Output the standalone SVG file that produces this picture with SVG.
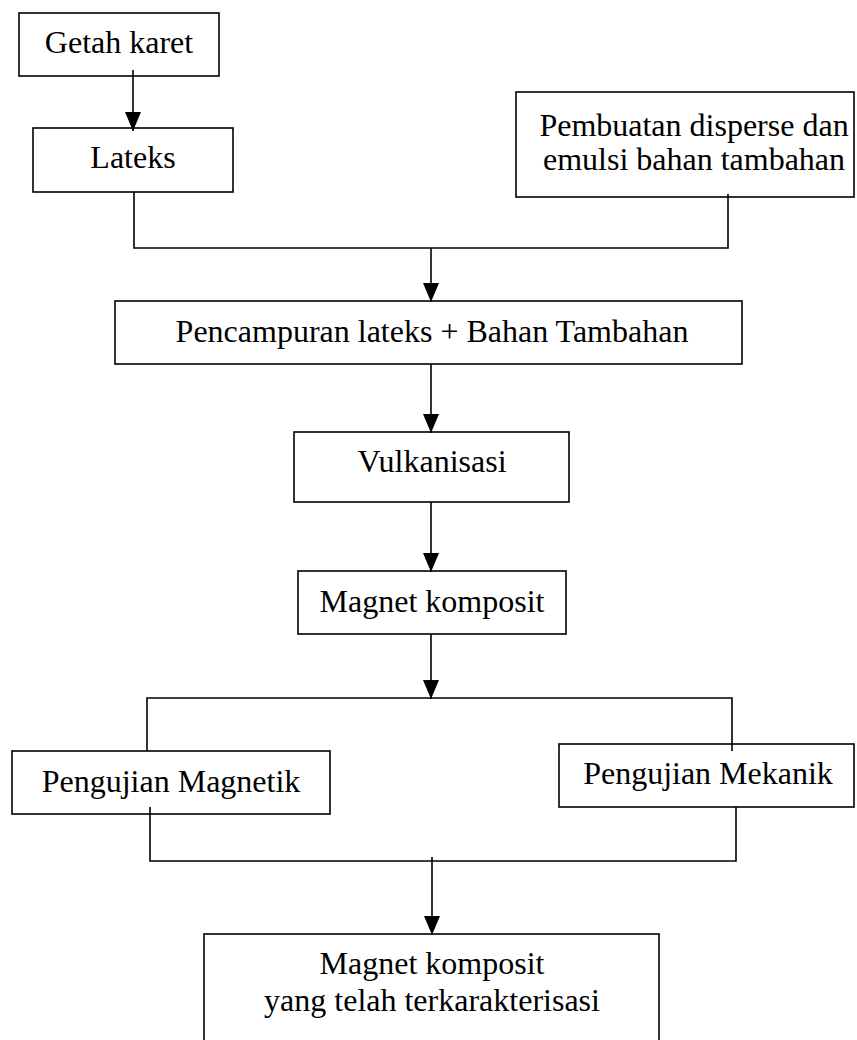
<svg xmlns="http://www.w3.org/2000/svg" width="857" height="1040" viewBox="0 0 857 1040">
  <style>
    .box { fill: #ffffff; stroke: #000000; stroke-width: 1.6; }
    .lbl { font-family: "Liberation Serif", "Times New Roman", serif; font-size: 32px; fill: #000000; text-anchor: middle; }
    .ln { fill: none; stroke: #000000; stroke-width: 1.6; }
    .arr { fill: none; stroke: #000000; stroke-width: 1.6; marker-end: url(#ah); }
  </style>
  <defs>
    <marker id="ah" markerUnits="userSpaceOnUse" markerWidth="20" markerHeight="16" viewBox="0 0 19 16" refX="19" refY="8" orient="auto">
      <path d="M0,0 L19,8 L0,16 Z" fill="#000000"/>
    </marker>
  </defs>
  <rect width="857" height="1040" fill="#ffffff"/>

  <g id="n-getah">
    <rect class="box" x="19" y="13" width="200" height="63"/>
    <text class="lbl" x="119" y="53">Getah karet</text>
  </g>
  <g id="n-lateks">
    <rect class="box" x="33" y="128" width="200" height="64"/>
    <text class="lbl" x="133" y="168">Lateks</text>
  </g>
  <g id="n-pembuatan">
    <rect class="box" x="516" y="92" width="338" height="105"/>
    <text class="lbl" x="694" y="136">Pembuatan disperse dan</text>
    <text class="lbl" x="694" y="170">emulsi bahan tambahan</text>
  </g>
  <g id="n-pencampuran">
    <rect class="box" x="115" y="301" width="627" height="63"/>
    <text class="lbl" x="432" y="342">Pencampuran lateks + Bahan Tambahan</text>
  </g>
  <g id="n-vulkanisasi">
    <rect class="box" x="294" y="432" width="275" height="70"/>
    <text class="lbl" x="432" y="472">Vulkanisasi</text>
  </g>
  <g id="n-magnet">
    <rect class="box" x="298" y="571" width="268" height="63"/>
    <text class="lbl" x="432" y="612">Magnet komposit</text>
  </g>
  <g id="n-magnetik">
    <rect class="box" x="12" y="751" width="318" height="63"/>
    <text class="lbl" x="171" y="792">Pengujian Magnetik</text>
  </g>
  <g id="n-mekanik">
    <rect class="box" x="559" y="744" width="295" height="63"/>
    <text class="lbl" x="708" y="784">Pengujian Mekanik</text>
  </g>
  <g id="n-final">
    <rect class="box" x="204" y="934" width="455" height="120"/>
    <text class="lbl" x="432" y="974">Magnet komposit</text>
    <text class="lbl" x="432" y="1011">yang telah terkarakterisasi</text>
  </g>

  <g id="connectors">
    <line class="arr" x1="133" y1="70" x2="133" y2="131"/>
    <polyline class="ln" points="134,192 134,248 728,248 728,194"/>
    <line class="arr" x1="431" y1="248" x2="431" y2="302"/>
    <line class="arr" x1="431" y1="364" x2="431" y2="433"/>
    <line class="arr" x1="431" y1="502" x2="431" y2="572"/>
    <line class="arr" x1="431" y1="634" x2="431" y2="699"/>
    <polyline class="ln" points="147,751 147,698 732,698 732,751"/>
    <polyline class="ln" points="150,807 150,861 736,861 736,807"/>
    <line class="arr" x1="432" y1="857" x2="432" y2="935"/>
  </g>
</svg>
